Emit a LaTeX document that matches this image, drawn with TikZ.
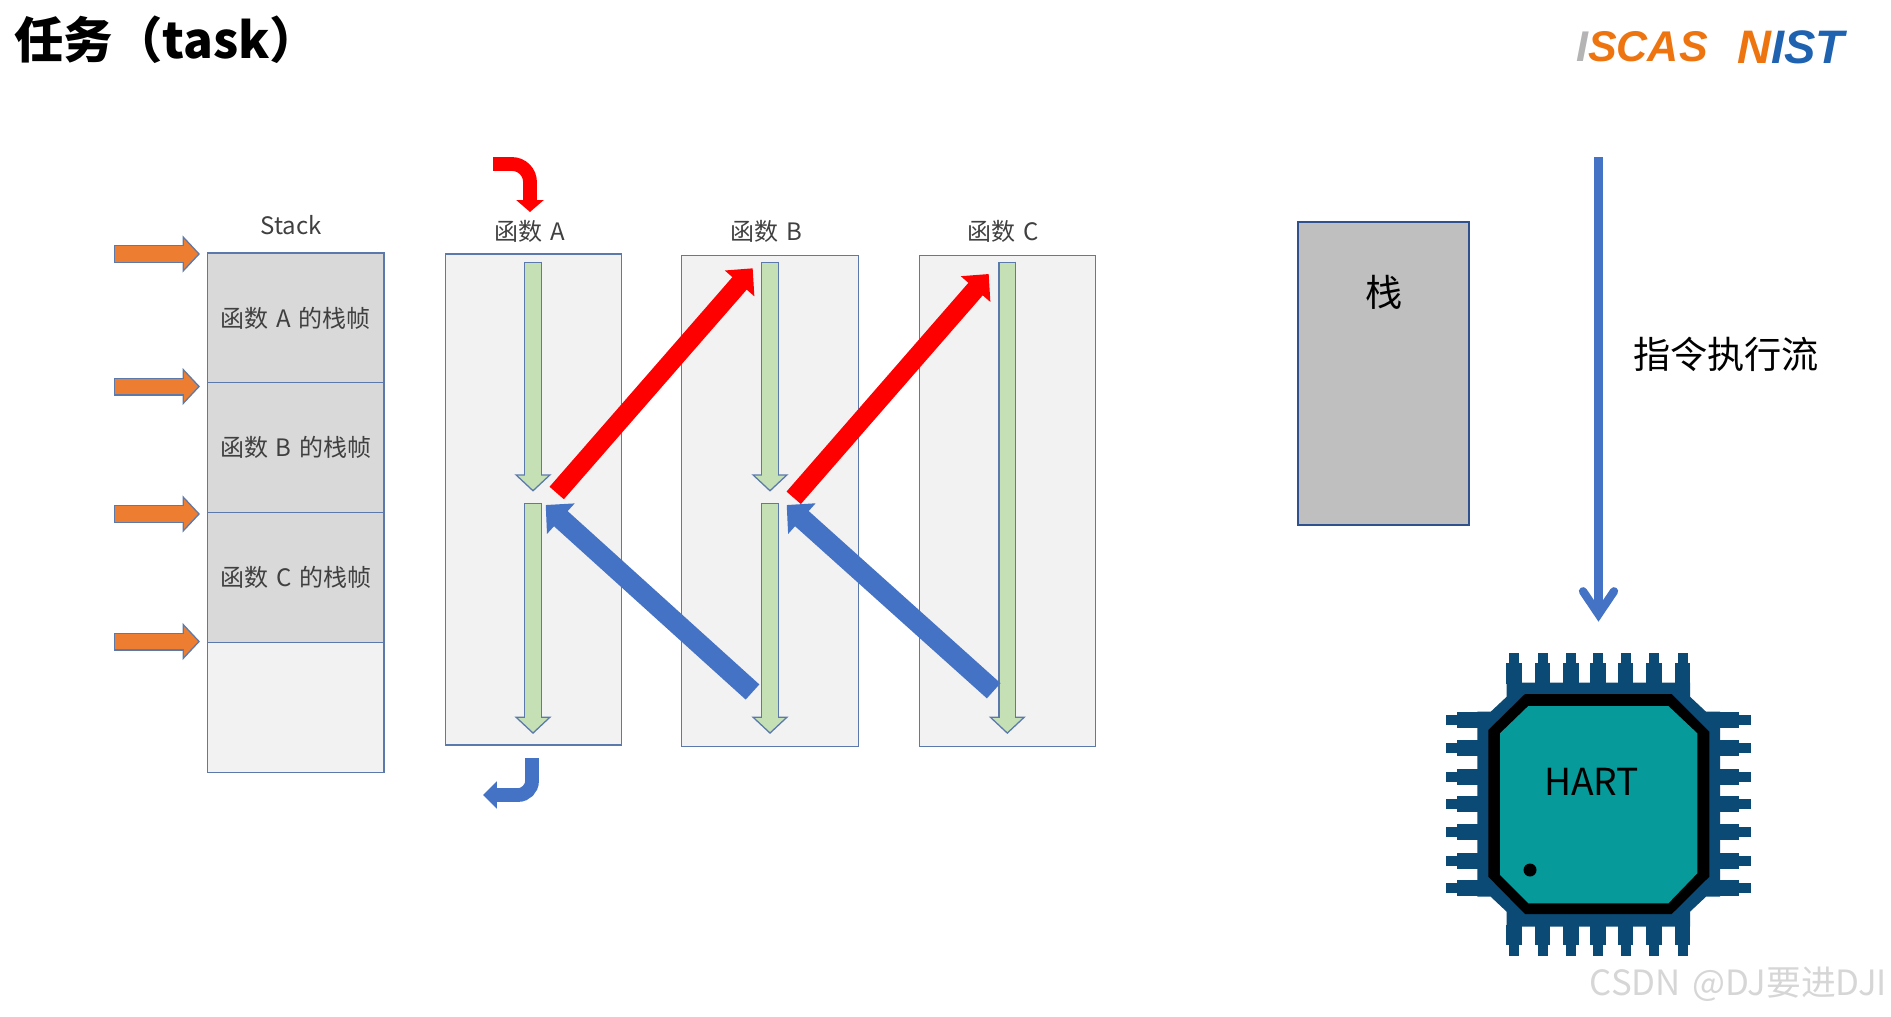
\documentclass[tikz,border=0pt]{standalone}
\usepackage{fontspec}
\setmainfont[WordSpace=1.45]{Noto Sans CJK SC}
\newfontfamily\logofont{Liberation Sans}
\usepackage{xcolor}
\usetikzlibrary{arrows.meta,positioning}
\definecolor{TKEdge}{HTML}{5B7AAB}
\definecolor{TKFrame}{HTML}{D9D9D9}
\definecolor{TKPale}{HTML}{F2F2F2}
\definecolor{TKGreen}{HTML}{C5E0B4}
\definecolor{TKOrange}{HTML}{ED7D31}
\definecolor{TKBlue}{HTML}{4472C4}
\definecolor{TKRed}{HTML}{FF0000}
\definecolor{TKStack}{HTML}{BFBFBF}
\definecolor{TKStackEdge}{HTML}{2F528F}
\definecolor{TKChip}{HTML}{0A4A74}
\definecolor{TKTeal}{HTML}{069A9A}
\definecolor{TKText}{HTML}{404040}
\definecolor{TKMark}{HTML}{D6D6D6}
\definecolor{TKGrey}{HTML}{B4B4B4}
\definecolor{TKLogoOrange}{HTML}{EE7410}
\definecolor{TKLogoBlue}{HTML}{1E62B0}

\begin{document}
\begin{tikzpicture}[
  x=0.5pt,y=-0.5pt,
  frame/.style={draw=TKEdge,line width=0.6pt,fill=TKFrame,minimum width=88.2pt,minimum height=64.9pt,inner sep=0pt,outer sep=0pt,font=\fontsize{12pt}{14pt}\selectfont,text=TKText},
  func/.style={draw=TKEdge,line width=0.6pt,fill=TKPale,minimum width=88.2pt,minimum height=245.5pt,inner sep=0pt,outer sep=0pt},
  note/.style={font=\fontsize{12pt}{14pt}\selectfont,text=TKText,inner sep=0pt},
  big/.style={font=\fontsize{18.6pt}{22pt}\selectfont,text=black,inner sep=0pt},
  blockline/.style={
    preaction={draw=TKEdge,line width=9pt,shorten >=0pt,shorten <=0pt,-{Triangle[length=8.7pt,width=18pt]}},
    draw=#1,line width=7.6pt,shorten >=1pt,shorten <=0.7pt,-{Triangle[length=7pt,width=14.5pt]}},
  callline/.style={draw=TKRed,line width=9.5pt,-{Triangle[length=10pt,width=19pt]}},
  backline/.style={draw=TKBlue,line width=10.2pt,-{Triangle[length=10.2pt,width=20pt]}},
  entry/.style={draw=#1,line width=6.9pt,rounded corners=9pt},
  execline/.style={draw=TKBlue,line width=4.15pt,-{Straight Barb[length=11.5pt,width=15.5pt,line width=4.15pt,line cap=round]}}
]
\useasboundingbox (0,0) rectangle (1891,1017);

\node[font=\fontsize{24.7pt}{28pt}\selectfont\bfseries,anchor=west,inner sep=0pt] (title) at (14,40) {任务（task）};
\node[font=\logofont\fontsize{21.5pt}{24pt}\selectfont\bfseries\itshape,text=TKLogoOrange,inner sep=0pt] (iscas) at (1642,47) {\textcolor{TKGrey}{I}SCAS};
\node[font=\logofont\fontsize{23.5pt}{24pt}\selectfont\bfseries\itshape,text=TKLogoBlue,inner sep=0pt] (nist) at (1791,47) {\textcolor{TKLogoOrange}{N}IST};

% stack of frames
\node[note] (stack) at (291,225.5) {Stack};
\node[frame] (frameA) at (295.7,317.9) {函数 A 的栈帧};
\node[frame,below=0pt of frameA] (frameB) {函数 B 的栈帧};
\node[frame,below=0pt of frameB] (frameC) {函数 C 的栈帧};
\node[frame,fill=TKPale,below=0pt of frameC] (frameD) {};

\coordinate (ptrA) at (114,254);
\coordinate (ptrB) at (114,386.5);
\coordinate (ptrC) at (114,514);
\coordinate (ptrD) at (114,641.5);
\coordinate (tipA) at (200,254);
\coordinate (tipB) at (200,386.5);
\coordinate (tipC) at (200,514);
\coordinate (tipD) at (200,641.5);
\draw[blockline=TKOrange] (ptrA) -- (tipA);
\draw[blockline=TKOrange] (ptrB) -- (tipB);
\draw[blockline=TKOrange] (ptrC) -- (tipC);
\draw[blockline=TKOrange] (ptrD) -- (tipD);

% function columns
\node[func] (funcA) at (533.4,499.4) {};
\node[func] (funcB) at (770,501) {};
\node[func] (funcC) at (1007.5,501) {};
\node[note] (labelA) at (529.5,231) {函数 A};
\node[note] (labelB) at (766,231) {函数 B};
\node[note] (labelC) at (1003,231) {函数 C};

\coordinate (runA1) at (533,261.7);
\coordinate (runA2) at (533,491.7);
\coordinate (runA3) at (533,503);
\coordinate (runA4) at (533,734);
\coordinate (runB1) at (770,261.7);
\coordinate (runB2) at (770,491.7);
\coordinate (runB3) at (770,503);
\coordinate (runB4) at (770,734);
\coordinate (runC1) at (1007.3,261.7);
\coordinate (runC2) at (1007.3,734);
\draw[blockline=TKGreen] (runA1) -- (runA2);
\draw[blockline=TKGreen] (runA3) -- (runA4);
\draw[blockline=TKGreen] (runB1) -- (runB2);
\draw[blockline=TKGreen] (runB3) -- (runB4);
\draw[blockline=TKGreen] (runC1) -- (runC2);

\coordinate (retB) at (752.5,692);
\coordinate (retA) at (545.7,505);
\coordinate (retC) at (993.7,690.8);
\coordinate (retD) at (786.7,505);
\draw[backline] (retB) -- (retA);
\draw[backline] (retC) -- (retD);

\coordinate (callA) at (556.7,493);
\coordinate (callB) at (752.7,268.3);
\coordinate (callC) at (793.7,497.8);
\coordinate (callD) at (988.7,274);
\draw[callline] (callA) -- (callB);
\draw[callline] (callC) -- (callD);

\coordinate (inStart) at (493,164);
\coordinate (inEnd) at (530,212);
\coordinate (outStart) at (532,758);
\coordinate (outEnd) at (483,795);
\draw[entry=TKRed,-{Triangle[length=5.9pt,width=13.3pt]}] (inStart) -| (inEnd);
\draw[entry=TKBlue,rounded corners=7pt,-{Triangle[length=6.9pt,width=13.3pt]}] (outStart) |- (outEnd);

% right side
\node[draw=TKStackEdge,line width=0.9pt,fill=TKStack,minimum width=85.5pt,minimum height=151.3pt,inner sep=0pt] (stackbox) at (1383.5,373.3) {};
\node[big] (stacktext) at (1384,292) {栈};
\coordinate (execTop) at (1598.5,157);
\coordinate (execTip) at (1598.5,621.7);
\draw[execline] (execTop) -- (execTip);
\node[big] (exectext) at (1726,354) {指令执行流};

% chip
\foreach \px in {1514,1542.7,1571,1598,1625.7,1654,1682.7} {
  \fill[TKChip] ({\px-7.7},663) rectangle ({\px+7.7},684);
  \fill[TKChip] ({\px-5},652.7) rectangle ({\px+5},664);
  \fill[TKChip] ({\px-7.7},925) rectangle ({\px+7.7},945);
  \fill[TKChip] ({\px-5},944) rectangle ({\px+5},956);
}
\foreach \py in {720,748.3,776.7,804.3,832,860.7,888.3} {
  \fill[TKChip] (1457.3,{\py-8}) rectangle (1478,{\py+8});
  \fill[TKChip] (1446,{\py-5}) rectangle (1458,{\py+5});
  \fill[TKChip] (1719,{\py-8}) rectangle (1739.3,{\py+8});
  \fill[TKChip] (1738.3,{\py-5}) rectangle (1750.7,{\py+5});
}
\fill[TKChip] (1506.7,682.7) -- (1690,682.7) -- (1690,696.7) -- (1706,711.7) -- (1720,711.7) -- (1720,896.7) -- (1706,896.7) -- (1690,911.7) -- (1690,926.7) -- (1506.7,926.7) -- (1506.7,911.7) -- (1490.7,896.7) -- (1477.3,896.7) -- (1477.3,711.7) -- (1490.7,711.7) -- (1506.7,696.7) -- cycle;
\fill[black] (1525,694) -- (1671.7,694) -- (1709.3,731.7) -- (1709.3,876.7) -- (1671.7,914) -- (1525,914) -- (1488.3,876.7) -- (1488.3,730) -- cycle;
\fill[TKTeal] (1528.3,706) -- (1668.3,706) -- (1697.3,733.3) -- (1697.3,873.3) -- (1668.3,903.3) -- (1528.3,903.3) -- (1500,875) -- (1500,733.3) -- cycle;
\node[circle,fill=black,minimum size=6.5pt,inner sep=0pt] (hartdot) at (1530,870) {};
\node[big] (hart) at (1591.7,781.7) {HART};

\node[font=\fontsize{17.4pt}{20pt}\selectfont,text=TKMark,inner sep=0pt] (mark) at (1738.5,984) {CSDN @DJ要进DJI};
\end{tikzpicture}
\end{document}
